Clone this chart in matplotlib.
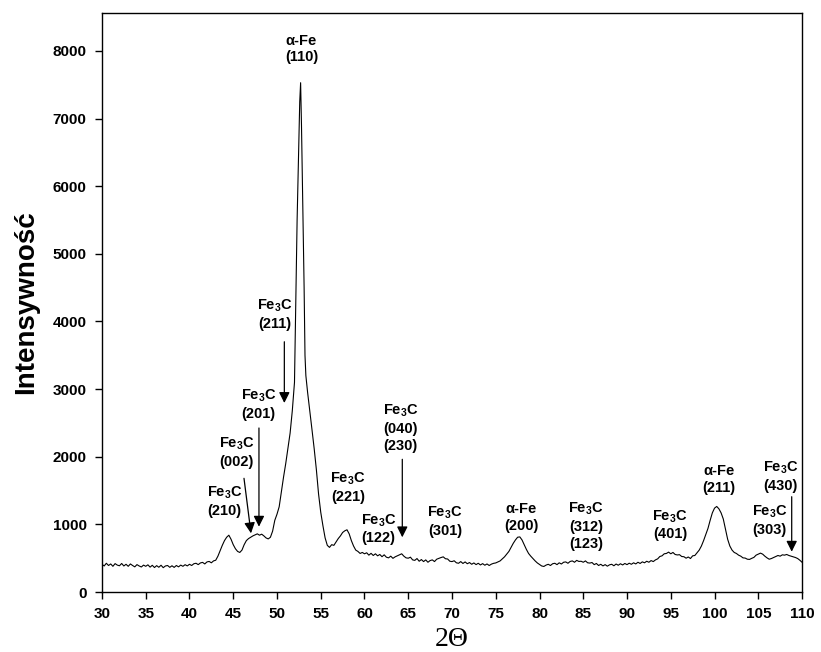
import numpy as np
import matplotlib
matplotlib.use("Agg")
import matplotlib.pyplot as plt

plt.rcParams['font.family'] = ['Liberation Sans', 'DejaVu Sans']
plt.rcParams['mathtext.default'] = 'regular'

# diffraction angle (deg) and measured intensity
two_theta = [
    30.00, 30.25, 30.50, 30.75, 31.00, 31.25, 31.50, 31.75, 32.00, 32.25,
    32.50, 32.75, 33.00, 33.25, 33.50, 33.75, 34.00, 34.25, 34.50, 34.75,
    35.00, 35.25, 35.50, 35.75, 36.00, 36.25, 36.50, 36.75, 37.00, 37.25,
    37.50, 37.75, 38.00, 38.25, 38.50, 38.75, 39.00, 39.25, 39.50, 39.75,
    40.00, 40.25, 40.50, 40.75, 41.00, 41.25, 41.50, 41.75, 42.00, 42.25,
    42.50, 42.75, 43.00, 43.25, 43.50, 43.75, 44.00, 44.25, 44.50, 44.75,
    45.00, 45.25, 45.50, 45.75, 46.00, 46.25, 46.50, 46.75, 47.00, 47.25,
    47.50, 47.75, 48.00, 48.25, 48.50, 48.75, 49.00, 49.25, 49.50, 49.75,
    50.00, 50.25, 50.50, 50.75, 51.00, 51.25, 51.50, 51.75, 52.00, 52.10,
    52.20, 52.30, 52.40, 52.50, 52.60, 52.70, 52.80, 52.90, 53.00, 53.10,
    53.20, 53.30, 53.50, 53.75, 54.00, 54.25, 54.50, 54.75,
    55.00, 55.25, 55.50, 55.75, 56.00, 56.25, 56.50, 56.75, 57.00, 57.25,
    57.50, 57.75, 58.00, 58.25, 58.50, 58.75, 59.00, 59.25, 59.50, 59.75,
    60.00, 60.25, 60.50, 60.75, 61.00, 61.25, 61.50, 61.75, 62.00, 62.25,
    62.50, 62.75, 63.00, 63.25, 63.50, 63.75, 64.00, 64.25, 64.50, 64.75,
    65.00, 65.25, 65.50, 65.75, 66.00, 66.25, 66.50, 66.75, 67.00, 67.25,
    67.50, 67.75, 68.00, 68.25, 68.50, 68.75, 69.00, 69.25, 69.50, 69.75,
    70.00, 70.25, 70.50, 70.75, 71.00, 71.25, 71.50, 71.75, 72.00, 72.25,
    72.50, 72.75, 73.00, 73.25, 73.50, 73.75, 74.00, 74.25, 74.50, 74.75,
    75.00, 75.25, 75.50, 75.75, 76.00, 76.25, 76.50, 76.75, 77.00, 77.25,
    77.50, 77.75, 78.00, 78.25, 78.50, 78.75, 79.00, 79.25, 79.50, 79.75,
    80.00, 80.25, 80.50, 80.75, 81.00, 81.25, 81.50, 81.75, 82.00, 82.25,
    82.50, 82.75, 83.00, 83.25, 83.50, 83.75, 84.00, 84.25, 84.50, 84.75,
    85.00, 85.25, 85.50, 85.75, 86.00, 86.25, 86.50, 86.75, 87.00, 87.25,
    87.50, 87.75, 88.00, 88.25, 88.50, 88.75, 89.00, 89.25, 89.50, 89.75,
    90.00, 90.25, 90.50, 90.75, 91.00, 91.25, 91.50, 91.75, 92.00, 92.25,
    92.50, 92.75, 93.00, 93.25, 93.50, 93.75, 94.00, 94.25, 94.50, 94.75,
    95.00, 95.25, 95.50, 95.75, 96.00, 96.25, 96.50, 96.75, 97.00, 97.25,
    97.50, 97.75, 98.00, 98.25, 98.50, 98.75, 99.00, 99.25, 99.50, 99.75,
    100.00, 100.25, 100.50, 100.75, 101.00, 101.25, 101.50, 101.75, 102.00, 102.25,
    102.50, 102.75, 103.00, 103.25, 103.50, 103.75, 104.00, 104.25, 104.50, 104.75,
    105.00, 105.25, 105.50, 105.75, 106.00, 106.25, 106.50, 106.75, 107.00, 107.25,
    107.50, 107.75, 108.00, 108.25, 108.50, 108.75, 109.00, 109.25, 109.50, 109.75,
    110.00,
]
intensity = [
    410, 385, 425, 392, 415, 380, 420, 398, 388, 422,
    385, 410, 380, 415, 392, 372, 405, 385, 370, 398,
    380, 402, 368, 395, 362, 390, 366, 396, 360, 385,
    392, 365, 388, 364, 392, 372, 398, 380, 404, 386,
    410, 392, 418, 425, 405, 430, 438, 415, 445, 452,
    432, 460, 470, 530, 610, 690, 760, 810, 840, 780,
    700, 640, 600, 585, 620, 700, 760, 790, 810, 830,
    845, 860, 840, 855, 830, 800, 785, 810, 900, 1060,
    1150, 1260, 1480, 1700, 1900, 2120, 2350, 2680, 3100, 3900,
    4800, 5500, 6100, 6700, 7250, 7530, 6900, 6100, 5300, 4500,
    3500, 3200, 2950, 2680, 2400, 2120, 1810, 1450,
    1180, 980, 800, 690, 660, 700, 690, 740, 790, 830,
    880, 905, 920, 860, 760, 680, 620, 600, 570, 585,
    565, 580, 545, 572, 540, 565, 535, 555, 522, 550,
    515, 505, 530, 498, 520, 535, 550, 565, 530, 505,
    500, 515, 475, 468, 495, 455, 480, 450, 475, 440,
    465, 475, 450, 485, 498, 510, 520, 492, 488, 455,
    450, 462, 432, 425, 450, 422, 445, 418, 436, 410,
    430, 405, 425, 400, 420, 396, 415, 392, 412, 424,
    430, 445, 460, 490, 520, 560, 600, 660, 720, 770,
    810, 815, 770, 700, 630, 570, 530, 495, 460, 430,
    408, 385, 378, 398, 410, 392, 418, 425, 405, 432,
    414, 440, 445, 425, 452, 460, 440, 468, 452, 455,
    440, 460, 432, 428, 436, 405, 422, 392, 410, 386,
    405, 382, 402, 410, 388, 414, 396, 418, 400, 422,
    405, 426, 410, 432, 415, 440, 422, 446, 432, 455,
    440, 465, 450, 475, 490, 525, 535, 565, 570, 590,
    565, 585, 555, 548, 552, 525, 522, 500, 518, 495,
    535, 540, 580, 620, 680, 760, 850, 940, 1060, 1170,
    1240, 1265, 1230, 1170, 1080, 930, 780, 680, 620, 585,
    570, 545, 530, 505, 502, 485, 482, 498, 512, 545,
    560, 575, 560, 530, 505, 485, 495, 510, 525, 540,
    530, 550, 545, 555, 540, 530, 520, 510, 495, 470,
    440,
]

# peak labels: text, text position (x, y), arrow tip or None
peak_labels = [
    ("α-Fe\n(110)", 52.8, 8030, None),
    ("Fe$_3$C\n(211)", 49.8, 4110, (50.84, 2795)),
    ("Fe$_3$C\n(201)", 47.9, 2770, (47.94, 966)),
    ("Fe$_3$C\n(002)", 45.4, 2070, (47.03, 868)),
    ("Fe$_3$C\n(210)", 44.0, 1345, None),
    ("Fe$_3$C\n(221)", 58.1, 1550, None),
    ("Fe$_3$C\n(122)", 61.6, 935, None),
    ("Fe$_3$C\n(040)\n(230)", 64.1, 2430, (64.32, 809)),
    ("Fe$_3$C\n(301)", 69.2, 1050, None),
    ("α-Fe\n(200)", 77.9, 1100, None),
    ("Fe$_3$C\n(312)\n(123)", 85.3, 980, None),
    ("Fe$_3$C\n(401)", 94.9, 995, None),
    ("α-Fe\n(211)", 100.5, 1660, None),
    ("Fe$_3$C\n(303)", 106.3, 1065, None),
    ("Fe$_3$C\n(430)", 107.55, 1715, (108.82, 596)),
]
# where each arrow shaft starts (just under its label)
arrow_starts = {
    "(211)": (50.84, 3700),
    "(201)": (47.94, 2425),
    "(002)": (46.23, 1681),
    "(230)": (64.32, 1962),
    "(430)": (108.82, 1409),
}

fig = plt.figure(figsize=(8.21, 6.52), dpi=100)
ax = fig.add_axes([0.1242, 0.092, 0.8527, 0.888])

ax.plot(two_theta, intensity, color='black', linewidth=0.8)

for text, tx, ty, tip in peak_labels:
    ax.text(tx, ty, text, ha='center', va='center', fontsize=10.5,
            fontweight='bold', linespacing=1.25)
    if tip is not None:
        key = text.split("\n")[-1]
        ax.annotate("", xy=tip, xytext=arrow_starts[key],
                    arrowprops=dict(arrowstyle='-|>', color='black',
                                    lw=0.9, mutation_scale=16,
                                    shrinkA=0, shrinkB=0))

ax.set_xlim(30, 110)
ax.set_ylim(0, 8560)
ax.set_xticks(np.arange(30, 111, 5))
ax.set_yticks(np.arange(0, 8001, 1000))
ax.tick_params(direction='out', length=5, width=1, labelsize=11, pad=6)
for lab in ax.get_xticklabels() + ax.get_yticklabels():
    lab.set_fontweight('bold')
for sp in ax.spines.values():
    sp.set_linewidth(1)

ax.set_ylabel("Intensywność", fontsize=20, fontweight='bold', labelpad=10)
ax.set_xlabel("2Θ", fontsize=20, family='Liberation Serif', labelpad=4)

fig.savefig("out.png", dpi=100)
